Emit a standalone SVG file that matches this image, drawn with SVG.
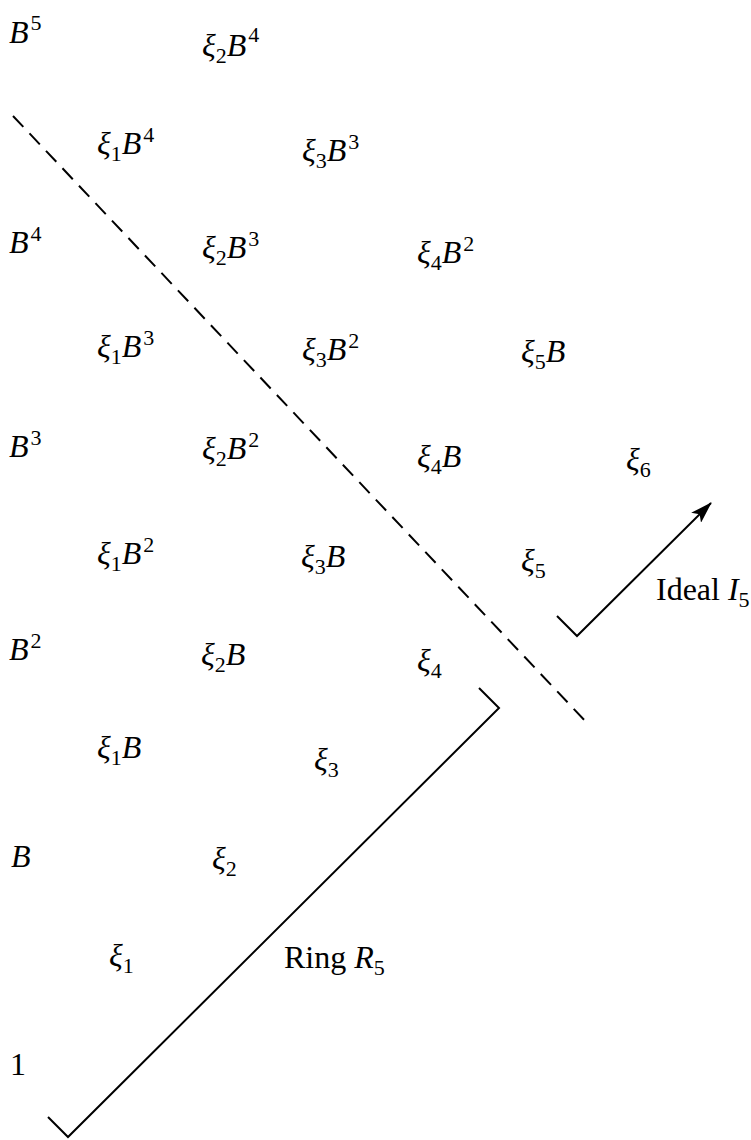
<svg xmlns="http://www.w3.org/2000/svg" width="751" height="1140" viewBox="0 0 751 1140">
<style>
text{font-family:"Liberation Serif","Times New Roman",serif;font-size:32px;fill:#000}
.i{font-style:italic}
.s{font-size:22px;font-style:normal}
.ln{fill:none;stroke:#000;stroke-width:2}
</style>
<defs>
<marker id="ah" viewBox="0 0 22 14" refX="21" refY="7" markerWidth="22" markerHeight="14" markerUnits="userSpaceOnUse" orient="auto">
<path d="M0,0 L22,7 L0,14 L5,7 Z" fill="#000"/>
</marker>
</defs>
<rect width="751" height="1140" fill="#fff"/>
<g id="connectors">
<line class="ln" x1="13" y1="116" x2="589" y2="725" stroke-dasharray="15 9"/>
<polyline class="ln" points="479,688 499,708 68,1137 48,1117"/>
<polyline class="ln" points="557,616 577,636 711,503" marker-end="url(#ah)"/>
</g>
<g id="n-B5"><text x="9" y="43" class="i">B<tspan class="s" dx="2" dy="-13">5</tspan></text></g>
<g id="n-x2B4"><text x="202" y="56" class="i">ξ<tspan class="s" dy="7">2</tspan><tspan dy="-7">B</tspan><tspan class="s" dx="2" dy="-14">4</tspan></text></g>
<g id="n-x1B4"><text x="97" y="154" class="i">ξ<tspan class="s" dy="7">1</tspan><tspan dy="-7">B</tspan><tspan class="s" dx="2" dy="-12">4</tspan></text></g>
<g id="n-x3B3"><text x="302" y="161" class="i">ξ<tspan class="s" dy="7">3</tspan><tspan dy="-7">B</tspan><tspan class="s" dx="2" dy="-12">3</tspan></text></g>
<g id="n-B4"><text x="9" y="253" class="i">B<tspan class="s" dx="2" dy="-12">4</tspan></text></g>
<g id="n-x2B3"><text x="202" y="258" class="i">ξ<tspan class="s" dy="7">2</tspan><tspan dy="-7">B</tspan><tspan class="s" dx="2" dy="-12">3</tspan></text></g>
<g id="n-x4B2"><text x="417" y="263" class="i">ξ<tspan class="s" dy="7">4</tspan><tspan dy="-7">B</tspan><tspan class="s" dx="2" dy="-12">2</tspan></text></g>
<g id="n-x1B3"><text x="97" y="357" class="i">ξ<tspan class="s" dy="7">1</tspan><tspan dy="-7">B</tspan><tspan class="s" dx="2" dy="-12">3</tspan></text></g>
<g id="n-x3B2"><text x="302" y="360" class="i">ξ<tspan class="s" dy="7">3</tspan><tspan dy="-7">B</tspan><tspan class="s" dx="2" dy="-12">2</tspan></text></g>
<g id="n-x5B"><text x="521" y="362" class="i">ξ<tspan class="s" dy="7">5</tspan><tspan dy="-7">B</tspan></text></g>
<g id="n-B3"><text x="9" y="457" class="i">B<tspan class="s" dx="2" dy="-12">3</tspan></text></g>
<g id="n-x2B2"><text x="202" y="459" class="i">ξ<tspan class="s" dy="7">2</tspan><tspan dy="-7">B</tspan><tspan class="s" dx="2" dy="-12">2</tspan></text></g>
<g id="n-x4B"><text x="417" y="467" class="i">ξ<tspan class="s" dy="7">4</tspan><tspan dy="-7">B</tspan></text></g>
<g id="n-x6"><text x="626" y="470" class="i">ξ<tspan class="s" dy="7">6</tspan></text></g>
<g id="n-x1B2"><text x="97" y="564" class="i">ξ<tspan class="s" dy="7">1</tspan><tspan dy="-7">B</tspan><tspan class="s" dx="2" dy="-12">2</tspan></text></g>
<g id="n-x3B"><text x="301" y="567" class="i">ξ<tspan class="s" dy="7">3</tspan><tspan dy="-7">B</tspan></text></g>
<g id="n-x5"><text x="521" y="571" class="i">ξ<tspan class="s" dy="7">5</tspan></text></g>
<g id="n-B2"><text x="9" y="660" class="i">B<tspan class="s" dx="2" dy="-12">2</tspan></text></g>
<g id="n-x2B"><text x="201" y="665" class="i">ξ<tspan class="s" dy="7">2</tspan><tspan dy="-7">B</tspan></text></g>
<g id="n-x4"><text x="417" y="671" class="i">ξ<tspan class="s" dy="7">4</tspan></text></g>
<g id="n-x1B"><text x="97" y="758" class="i">ξ<tspan class="s" dy="7">1</tspan><tspan dy="-7">B</tspan></text></g>
<g id="n-x3"><text x="314" y="770" class="i">ξ<tspan class="s" dy="7">3</tspan></text></g>
<g id="n-B"><text x="11" y="867" class="i">B</text></g>
<g id="n-x2"><text x="212" y="869" class="i">ξ<tspan class="s" dy="7">2</tspan></text></g>
<g id="n-x1"><text x="109" y="966" class="i">ξ<tspan class="s" dy="7">1</tspan></text></g>
<g id="n-1"><text x="10" y="1075">1</text></g>
<g id="l-ring"><text x="284" y="968">Ring <tspan class="i">R</tspan><tspan class="s" dy="7">5</tspan></text></g>
<g id="l-ideal"><text x="656" y="600">Ideal <tspan class="i">I</tspan><tspan class="s" dy="7">5</tspan></text></g>
</svg>
